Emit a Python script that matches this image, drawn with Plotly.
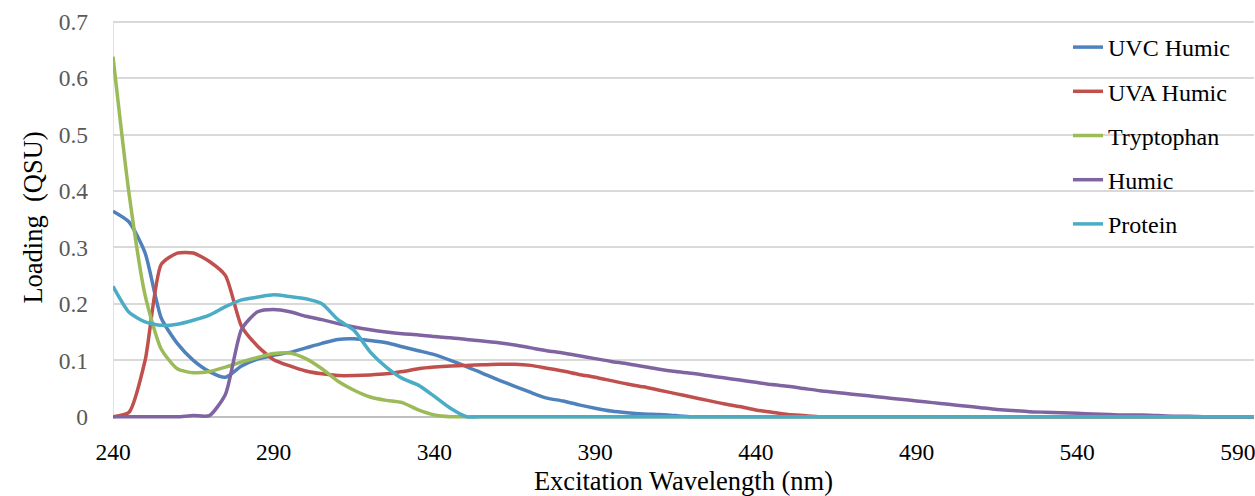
import plotly.graph_objects as go

wavelength = list(range(240, 600, 5))  # 240 ... 595

uvc_humic = [0.364, 0.345, 0.290, 0.175, 0.130, 0.100, 0.080, 0.070, 0.090, 0.102,
             0.109, 0.114, 0.122, 0.130, 0.137, 0.138, 0.135, 0.131, 0.124, 0.117,
             0.110, 0.100, 0.089, 0.077, 0.065, 0.054, 0.043, 0.033, 0.028, 0.021,
             0.015, 0.010, 0.007, 0.005, 0.004, 0.002, 0.0]
uva_humic = [0.0, 0.008, 0.100, 0.270, 0.290, 0.290, 0.275, 0.250, 0.160, 0.125,
             0.101, 0.090, 0.081, 0.076, 0.073, 0.073, 0.074, 0.076, 0.080, 0.085,
             0.088, 0.090, 0.091, 0.092, 0.093, 0.093, 0.091, 0.086, 0.081, 0.075,
             0.070, 0.064, 0.058, 0.053, 0.047, 0.041, 0.035, 0.029, 0.023, 0.018,
             0.012, 0.008, 0.004, 0.002, 0.0]
tryptophan = [0.638, 0.395, 0.215, 0.120, 0.085, 0.078, 0.080, 0.088, 0.097, 0.105,
              0.112, 0.113, 0.103, 0.085, 0.063, 0.047, 0.035, 0.029, 0.025, 0.012,
              0.003, 0.0]
humic = [0.0, 0.0, 0.0, 0.0, 0.0, 0.002, 0.002, 0.040, 0.155, 0.186,
         0.190, 0.186, 0.178, 0.172, 0.165, 0.159, 0.154, 0.150, 0.147, 0.145,
         0.142, 0.140, 0.137, 0.134, 0.131, 0.127, 0.122, 0.117, 0.113, 0.108,
         0.103, 0.098, 0.094, 0.089, 0.084, 0.080, 0.077, 0.073, 0.069, 0.065,
         0.061, 0.057, 0.054, 0.050, 0.046, 0.043, 0.040, 0.037, 0.034, 0.031,
         0.028, 0.025, 0.022, 0.019, 0.016, 0.013, 0.011, 0.009, 0.008, 0.007,
         0.006, 0.005, 0.004, 0.003, 0.003, 0.002, 0.001, 0.001, 0.0]
protein = [0.231, 0.185, 0.168, 0.162, 0.164, 0.171, 0.180, 0.195, 0.207, 0.212,
           0.216, 0.213, 0.209, 0.200, 0.172, 0.153, 0.115, 0.088, 0.068, 0.056,
           0.036, 0.015, 0.0]

def pad(vals):
    return vals + [0.0] * (len(wavelength) - len(vals))

series = [
    ("UVC Humic", pad(uvc_humic), "#4F81BD"),
    ("UVA Humic", pad(uva_humic), "#C0504D"),
    ("Tryptophan", pad(tryptophan), "#9BBB59"),
    ("Humic", pad(humic), "#8064A2"),
    ("Protein", pad(protein), "#4BACC6"),
]

x_ticks = list(range(240, 600, 50))
y_ticks = [0, 0.1, 0.2, 0.3, 0.4, 0.5, 0.6, 0.7]
y_labels = ["0", "0.1", "0.2", "0.3", "0.4", "0.5", "0.6", "0.7"]

font_family = "Liberation Serif, Times New Roman, serif"

fig = go.Figure()
for i, (name, vals, color) in enumerate(series):
    fig.add_trace(go.Scatter(
        x=wavelength, y=vals, name=name, mode="lines",
        line=dict(color=color, width=3.5, shape="spline", smoothing=0.6),
        legendgroup=f"g{i}",
    ))

# plot area: x 113..1254 px, y 16..419 px  (0.7 at ~22 px, 0 at ~417 px)
fig.update_layout(
    width=1255, height=496,
    margin=dict(l=113, r=1, t=16, b=77, autoexpand=False),
    paper_bgcolor="white", plot_bgcolor="white",
    font=dict(family=font_family, size=23, color="black"),
    showlegend=True,
    legend=dict(
        xref="paper", yref="paper",
        x=(1068 - 113) / 1141, y=1 - (25 - 16) / 403, xanchor="left", yanchor="top",
        font=dict(size=24, color="black"),
        bgcolor="rgba(255,255,255,0)",
        tracegroupgap=10,
    ),
    xaxis=dict(
        range=[240, 595],
        tickmode="array", tickvals=x_ticks, ticktext=[str(t) for t in x_ticks],
        showgrid=False, zeroline=False, showline=False,
        ticks="", ticklabelstandoff=16, ticklabeloverflow="allow",
        tickfont=dict(size=23.5, color="black"),
        title=dict(text="Excitation Wavelength (nm)", font=dict(size=26.5, color="black"), standoff=8),
    ),
    yaxis=dict(
        range=[-0.004, 0.71],
        tickmode="array", tickvals=y_ticks, ticktext=y_labels,
        showgrid=True, gridcolor="#D9D9D9", gridwidth=1.5,
        zeroline=True, zerolinecolor="#BFBFBF", zerolinewidth=1.5,
        showline=False,
        ticks="", ticklabelstandoff=24,
        tickfont=dict(size=23.5, color="#595959"),
        title=dict(text="Loading  (QSU)", font=dict(size=26.5, color="black"), standoff=8),
    ),
    shapes=[dict(type="line", xref="x", yref="y", x0=240, x1=240, y0=0, y1=0.7,
                 line=dict(color="#D9D9D9", width=1.5), layer="below")],
)

fig.write_html("out.html")
